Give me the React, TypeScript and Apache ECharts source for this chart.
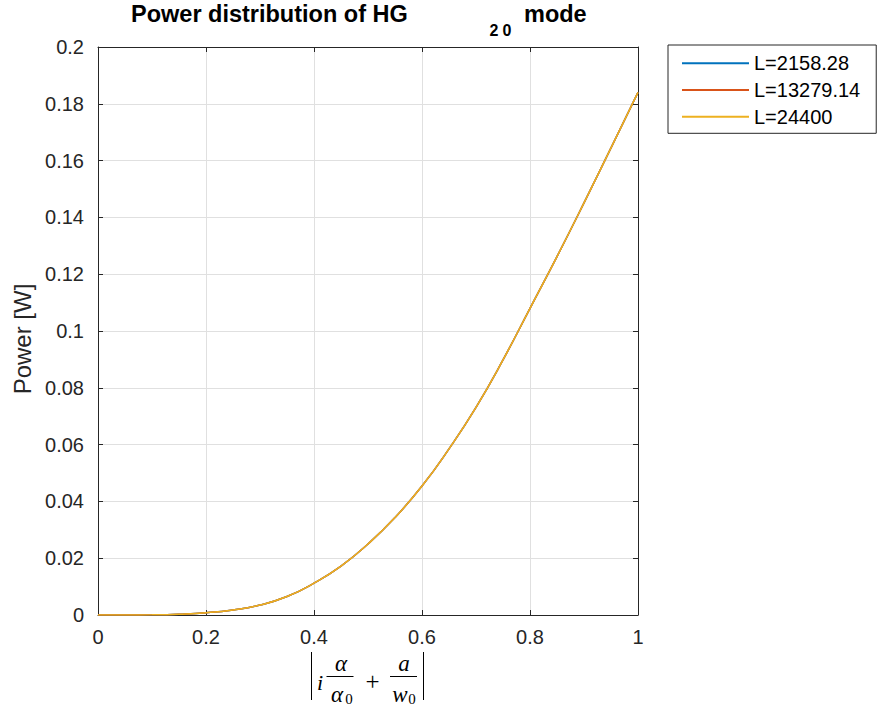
import React, { useEffect, useRef } from "react";
import * as echarts from "echarts";

const xValues = [0, 0.05, 0.1, 0.15, 0.2, 0.25, 0.3, 0.35, 0.4, 0.45, 0.5, 0.55, 0.6, 0.65, 0.7, 0.75, 0.8, 0.85, 0.9, 0.95, 1.0];
const powerL1 = [0, 0.00001, 0.00007, 0.0003, 0.0008, 0.0018, 0.0035, 0.0065, 0.0112, 0.0172, 0.025, 0.0343, 0.0454, 0.0585, 0.0731, 0.0898, 0.108, 0.1262, 0.1451, 0.1645, 0.184];
const powerL2 = [0, 0.00001, 0.00007, 0.0003, 0.0008, 0.0018, 0.0035, 0.0065, 0.0112, 0.0172, 0.025, 0.0343, 0.0454, 0.0585, 0.0731, 0.0898, 0.108, 0.1262, 0.1451, 0.1645, 0.184];
const powerL3 = [0, 0.00001, 0.00007, 0.0003, 0.0008, 0.0018, 0.0035, 0.0065, 0.0112, 0.0172, 0.025, 0.0343, 0.0454, 0.0585, 0.0731, 0.0898, 0.108, 0.1262, 0.1451, 0.1645, 0.184];
const seriesNames = ["L=2158.28", "L=13279.14", "L=24400"];
const seriesColors = ["#0072BD", "#D95319", "#EDB120"];

const FONT = "Liberation Sans, Arial, Helvetica, sans-serif";
const SERIF = "Liberation Serif, DejaVu Serif, serif";
const AX = "#262626";

export default function App() {
  const ref = useRef<HTMLDivElement>(null);
  useEffect(() => {
    if (!ref.current) return;
    const chart = echarts.init(ref.current, undefined, { renderer: "svg" });
    const allY = [powerL1, powerL2, powerL3];
    const series = seriesNames.map((name, i) => ({
      name,
      type: "line",
      data: xValues.map((x, j) => [x, allY[i][j]]),
      smooth: 0.5,
      symbol: "none",
      showSymbol: false,
      lineStyle: { color: seriesColors[i], width: 1.5 },
      itemStyle: { color: seriesColors[i] },
      xAxisIndex: 0,
      yAxisIndex: 0,
    }));
    const fracStyle = { stroke: "#000", lineWidth: 1 };
    const mathText = (text: string, x: number, y: number, font: string) => ({
      type: "text",
      x,
      y,
      style: { text, font, fill: "#000", align: "center", verticalAlign: "middle" },
    });
    chart.setOption({
      animation: false,
      backgroundColor: "#fff",
      textStyle: { fontFamily: FONT },
      grid: { left: 98, top: 47, width: 540, height: 568, containLabel: false },
      legend: {
        orient: "vertical",
        left: 668,
        top: 45,
        data: seriesNames,
        icon: "rect",
        itemWidth: 67,
        itemHeight: 2,
        itemGap: 6.7,
        padding: [8.3, 16, 6.6, 14],
        borderColor: "#262626",
        borderWidth: 1,
        backgroundColor: "#fff",
        textStyle: { fontFamily: FONT, fontSize: 20, color: "#000" },
      },
      xAxis: [
        {
          type: "value",
          min: 0,
          max: 1,
          interval: 0.2,
          position: "bottom",
          axisLine: { show: true, onZero: false, lineStyle: { color: AX, width: 1 } },
          axisTick: { show: true, inside: true, length: 5, lineStyle: { color: AX } },
          axisLabel: { fontSize: 20, color: AX, margin: 12, fontFamily: FONT },
          splitLine: { show: true, lineStyle: { color: "#e0e0e0", width: 1 } },
        },
        {
          type: "value",
          min: 0,
          max: 1,
          interval: 0.2,
          position: "top",
          axisLine: { show: true, onZero: false, lineStyle: { color: AX, width: 1 } },
          axisTick: { show: true, inside: true, length: 5, lineStyle: { color: AX } },
          axisLabel: { show: false },
          splitLine: { show: false },
        },
      ],
      yAxis: [
        {
          type: "value",
          min: 0,
          max: 0.2,
          interval: 0.02,
          position: "left",
          axisLine: { show: true, onZero: false, lineStyle: { color: AX, width: 1 } },
          axisTick: { show: true, inside: true, length: 5, lineStyle: { color: AX } },
          axisLabel: { fontSize: 20, color: AX, margin: 14, fontFamily: FONT },
          splitLine: { show: true, lineStyle: { color: "#e0e0e0", width: 1 } },
        },
        {
          type: "value",
          min: 0,
          max: 0.2,
          interval: 0.02,
          position: "right",
          axisLine: { show: true, onZero: false, lineStyle: { color: AX, width: 1 } },
          axisTick: { show: true, inside: true, length: 5, lineStyle: { color: AX } },
          axisLabel: { show: false },
          splitLine: { show: false },
        },
      ],
      series,
      graphic: [
        { type: "text", x: 131, y: 13.6, style: { text: "Power distribution of HG", font: `bold 23.5px ${FONT}`, fill: "#000", align: "left", verticalAlign: "middle" } },
        { type: "text", x: 494, y: 30, style: { text: "2", font: `bold 16px ${FONT}`, fill: "#000", align: "center", verticalAlign: "middle" } },
        { type: "text", x: 507, y: 30, style: { text: "0", font: `bold 16px ${FONT}`, fill: "#000", align: "center", verticalAlign: "middle" } },
        { type: "text", x: 524, y: 13.6, style: { text: "mode", font: `bold 23.5px ${FONT}`, fill: "#000", align: "left", verticalAlign: "middle" } },
        // y-axis name
        { type: "text", x: 22, y: 339, rotation: Math.PI / 2, style: { text: "Power [W]", font: `24px ${FONT}`, fill: AX, align: "center", verticalAlign: "middle" } },
        // x-axis label: |i α/α0 + a/w0|
        { type: "line", shape: { x1: 311.5, y1: 652, x2: 311.5, y2: 700 }, style: { stroke: "#000", lineWidth: 1 } },
        { type: "line", shape: { x1: 423.5, y1: 652, x2: 423.5, y2: 700 }, style: { stroke: "#000", lineWidth: 1 } },
        mathText("i", 320, 682, `italic 22px ${SERIF}`),
        { type: "line", shape: { x1: 326.5, y1: 676.5, x2: 353.5, y2: 676.5 }, style: fracStyle },
        mathText("α", 341, 663, `italic 23px ${SERIF}`),
        mathText("α", 337, 694, `italic 23px ${SERIF}`),
        mathText("0", 349, 699, `15px ${SERIF}`),
        mathText("+", 372.5, 681, `25px ${SERIF}`),
        { type: "line", shape: { x1: 390, y1: 676.5, x2: 417, y2: 676.5 }, style: fracStyle },
        mathText("a", 404, 663, `italic 23px ${SERIF}`),
        mathText("w", 400, 694, `italic 23px ${SERIF}`),
        mathText("0", 412, 699, `15px ${SERIF}`),
      ],
    });
    return () => chart.dispose();
  }, []);
  return <div ref={ref} style={{ width: 880, height: 708, position: "absolute", left: 0, top: 0 }} />;
}
